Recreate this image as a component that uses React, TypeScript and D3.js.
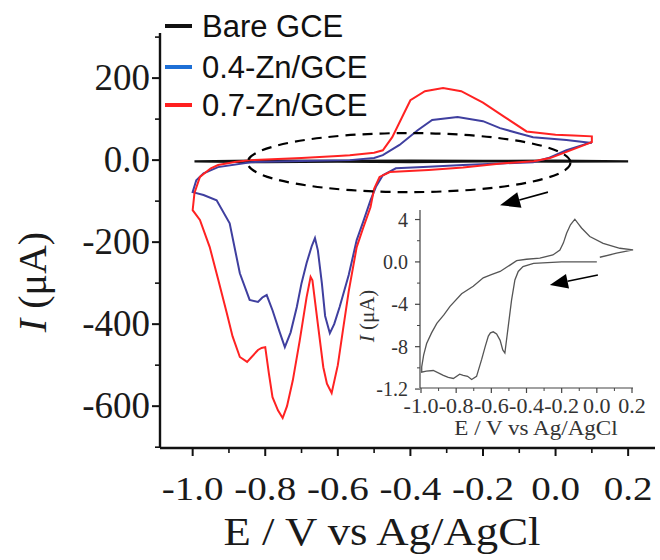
import React from 'react';
import * as d3 from 'd3';

// main CV curves, [E (V), I (uA)]
const bareGCE: [number, number][] = [
  [0.2, -3], [0.0, -4], [-0.2, -3], [-0.4, -5], [-0.6, -4], [-0.8, -5], [-0.995, -3],
  [-0.8, -1], [-0.6, -2], [-0.4, -1], [-0.2, -2], [0.0, -1], [0.2, -3],
];

const zn04: [number, number][] = [
  [0.1, 44], [0.03, 24], [-0.02, 5], [-0.062, -5], [-0.15, -8], [-0.255, -12], [-0.35, -16],
  [-0.44, -20], [-0.476, -37], [-0.495, -65], [-0.51, -98], [-0.53, -150], [-0.548, -195],
  [-0.57, -280], [-0.595, -358], [-0.61, -400], [-0.622, -422], [-0.635, -380], [-0.644, -300],
  [-0.655, -220], [-0.663, -190], [-0.672, -210], [-0.686, -251], [-0.7, -300], [-0.713, -358],
  [-0.73, -420], [-0.746, -456], [-0.76, -420], [-0.78, -366], [-0.796, -329], [-0.808, -335],
  [-0.82, -346], [-0.843, -341], [-0.87, -276], [-0.898, -154], [-0.934, -98], [-0.97, -85],
  [-1.0, -78], [-0.99, -49], [-0.97, -32], [-0.93, -17], [-0.84, -5], [-0.7, -2], [-0.567, 0],
  [-0.5, 5], [-0.476, 12], [-0.43, 37], [-0.38, 73], [-0.34, 98], [-0.27, 105], [-0.2, 95],
  [-0.153, 78], [-0.1, 65], [-0.062, 56], [0.03, 49], [0.1, 42],
];

const zn07: [number, number][] = [
  [0.1, 50], [0.1, 44], [0.03, 20], [-0.015, 5], [-0.06, -3], [-0.15, -8], [-0.255, -18],
  [-0.35, -24], [-0.457, -29], [-0.485, -41], [-0.5, -70], [-0.51, -115], [-0.53, -165],
  [-0.548, -212], [-0.57, -320], [-0.586, -415], [-0.6, -500], [-0.617, -568], [-0.63, -545],
  [-0.64, -505], [-0.655, -400], [-0.67, -293], [-0.675, -285], [-0.686, -334], [-0.705, -440],
  [-0.724, -537], [-0.74, -600], [-0.752, -629], [-0.765, -610], [-0.78, -578], [-0.79, -520],
  [-0.8, -456], [-0.81, -458], [-0.82, -463], [-0.85, -492], [-0.87, -480], [-0.89, -430],
  [-0.906, -373], [-0.93, -290], [-0.953, -212], [-0.98, -146], [-1.0, -122], [-0.995, -80],
  [-0.98, -41], [-0.95, -20], [-0.93, -12], [-0.88, -4], [-0.84, 0], [-0.7, 5], [-0.6, 10],
  [-0.567, 12], [-0.5, 18], [-0.476, 24], [-0.45, 56], [-0.42, 110], [-0.4, 146], [-0.36, 168],
  [-0.31, 176], [-0.26, 168], [-0.2, 140], [-0.14, 105], [-0.08, 70], [0.0, 62], [0.05, 60],
  [0.1, 58], [0.1, 50],
];

// inset: bare GCE, I in uA
const insetCurve: [number, number][] = [
  [0.0, 0.0], [-0.2, 0.0], [-0.36, -0.13], [-0.42, -0.44], [-0.447, -0.9], [-0.466, -1.7],
  [-0.485, -3.6], [-0.504, -6.1], [-0.523, -8.6], [-0.535, -8.3], [-0.55, -7.4], [-0.57, -6.8],
  [-0.589, -6.6], [-0.605, -6.7], [-0.617, -7.0], [-0.635, -8.0], [-0.655, -9.2], [-0.684, -10.8],
  [-0.712, -11.1], [-0.735, -10.8], [-0.76, -10.7], [-0.78, -10.6], [-0.816, -11.0], [-0.845, -10.9],
  [-0.873, -10.7], [-0.93, -10.25], [-0.97, -10.3], [-0.996, -10.4], [-0.996, -9.9], [-0.985, -8.8],
  [-0.968, -7.7], [-0.94, -6.7], [-0.91, -5.8], [-0.87, -5.0], [-0.835, -4.2], [-0.769, -3.0],
  [-0.703, -2.3], [-0.646, -1.5], [-0.6, -1.2], [-0.55, -0.9], [-0.494, -0.3], [-0.456, 0.12],
  [-0.4, 0.25], [-0.324, 0.35], [-0.25, 0.66], [-0.21, 1.13], [-0.19, 1.8], [-0.172, 2.7],
  [-0.15, 3.5], [-0.125, 4.03], [-0.105, 3.6], [-0.087, 3.2], [-0.04, 2.4], [0.036, 1.76],
  [0.131, 1.29], [0.206, 1.13], [0.112, 0.82], [0.017, 0.44],
];

const xTicks = [-1.0, -0.8, -0.6, -0.4, -0.2, 0.0, 0.2];
const xTickLabels = ['-1.0', '-0.8', '-0.6', '-0.4', '-0.2', '0.0', '0.2'];
const xMinor = [-0.9, -0.7, -0.5, -0.3, -0.1, 0.1];
const yTicks = [200, 0, -200, -400, -600];
const yTickLabels = ['200', '0.0', '-200', '-400', '-600'];
const yMinor = [300, 100, -100, -300, -500, -700];

const insetYTicks = [4, 0, -4, -8, -12];
const insetYLabels = ['4', '0.0', '-4', '-8', '-1.2'];
const insetYMinor = [2, -2, -6, -10];

const legendNames = ['Bare GCE', '0.4-Zn/GCE', '0.7-Zn/GCE'];
const legendColors = ['#111', '#1d6fd6', '#ff1f1f'];
const curveColors = ['#111', '#3f3f9f', '#ff2222'];

// annotations: [E, I]
const mainArrow: [number, number][] = [[-0.021, -78], [-0.153, -110]];
const insetArrow: [number, number][] = [[0.006, -1.23], [-0.267, -2.17]];
const ellipse = { cx: -0.404, cy: -6, rx: 0.445, ry: 72 };

const serif = "'Times New Roman', 'Liberation Serif', serif";
const sans = "Arial, 'Liberation Sans', sans-serif";

function Arrow({ p0, p1, len, half, width }: any) {
  const ang = Math.atan2(p1[1] - p0[1], p1[0] - p0[0]);
  const bx = p1[0] - len * Math.cos(ang);
  const by = p1[1] - len * Math.sin(ang);
  const nx = -Math.sin(ang) * half;
  const ny = Math.cos(ang) * half;
  return (
    <g>
      <line x1={p0[0]} y1={p0[1]} x2={bx} y2={by} stroke="#000" strokeWidth={width} />
      <polygon points={`${p1[0]},${p1[1]} ${bx + nx},${by + ny} ${bx - nx},${by - ny}`} fill="#000" />
    </g>
  );
}

export default function App() {
  const W = 660, H = 560;
  const x = d3.scaleLinear().domain([-1.09, 0.274]).range([160, 655]);
  const y = d3.scaleLinear().domain([-702, 310]).range([448, 33]);
  const ix = d3.scaleLinear().domain([-1.0, 0.2]).range([421, 632]);
  const iy = d3.scaleLinear().domain([-11.9, 4.9]).range([388, 210]);

  const line = d3.line<[number, number]>().x(d => x(d[0])).y(d => y(d[1]));
  const iline = d3.line<[number, number]>().x(d => ix(d[0])).y(d => iy(d[1]));
  const series = [bareGCE, zn04, zn07];

  const x0 = x.range()[0], y0 = y.range()[0];
  const ex = x(ellipse.cx), ey = y(ellipse.cy);
  const erx = x(ellipse.cx + ellipse.rx) - ex, ery = ey - y(ellipse.cy + ellipse.ry);

  return (
    <svg width={W} height={H} style={{ position: 'absolute', left: 0, top: 0, background: '#fff' }}>
      {/* curves */}
      {series.map((s, i) => (
        <path key={i} d={line(s) || ''} fill="none" stroke={curveColors[i]} strokeWidth={i === 0 ? 2.2 : 2} />
      ))}
      <ellipse cx={ex} cy={ey} rx={erx} ry={ery} fill="none" stroke="#000" strokeWidth={2.2} strokeDasharray="10 7" />
      <Arrow p0={[x(mainArrow[0][0]), y(mainArrow[0][1])]} p1={[x(mainArrow[1][0]), y(mainArrow[1][1])]} len={20} half={8} width={1.6} />

      {/* main axes */}
      <line x1={x0} y1={y.range()[1]} x2={x0} y2={y0} stroke="#111" strokeWidth={2.4} />
      <line x1={x0} y1={y0} x2={x.range()[1]} y2={y0} stroke="#111" strokeWidth={2.4} />
      {xTicks.map((t, i) => (
        <g key={'xt' + i}>
          <line x1={x(t)} x2={x(t)} y1={y0} y2={y0 + 8} stroke="#111" strokeWidth={2} />
          <text transform={`translate(${x(t)},500) scale(1.15,1)`} textAnchor="middle" fontFamily={serif} fontSize={34} fill="#1a1a1a">
            {xTickLabels[i]}
          </text>
        </g>
      ))}
      {xMinor.map((t, i) => (
        <line key={'xm' + i} x1={x(t)} x2={x(t)} y1={y0} y2={y0 + 5} stroke="#111" strokeWidth={1.6} />
      ))}
      {yTicks.map((t, i) => (
        <g key={'yt' + i}>
          <line x1={x0 - 8} x2={x0} y1={y(t)} y2={y(t)} stroke="#111" strokeWidth={2} />
          <text x={150} y={y(t) + 12} textAnchor="end" fontFamily={serif} fontSize={37} fill="#1a1a1a">
            {yTickLabels[i]}
          </text>
        </g>
      ))}
      {yMinor.map((t, i) => (
        <line key={'ym' + i} x1={x0 - 5} x2={x0} y1={y(t)} y2={y(t)} stroke="#111" strokeWidth={1.6} />
      ))}
      <text transform="translate(382,545) scale(1.12,1)" textAnchor="middle" fontFamily={serif} fontSize={40} fill="#1a1a1a">
        E / V vs Ag/AgCl
      </text>
      <text transform="translate(46,282) rotate(-90)" textAnchor="middle" fontFamily={serif} fontSize={40} fill="#1a1a1a">
        <tspan fontStyle="italic">I</tspan> (μA)
      </text>

      {/* legend */}
      {legendNames.map((n, i) => {
        const by = [26, 67, 105][i];
        return (
          <g key={'lg' + i}>
            <line x1={165} x2={192} y1={by} y2={by} stroke={legendColors[i]} strokeWidth={4} />
            <text x={202} y={by + 11} fontFamily={sans} fontSize={31} fill="#111">{n}</text>
          </g>
        );
      })}

      {/* inset */}
      <path d={iline(insetCurve) || ''} fill="none" stroke="#555" strokeWidth={1.3} />
      <Arrow p0={[ix(insetArrow[0][0]), iy(insetArrow[0][1])]} p1={[ix(insetArrow[1][0]), iy(insetArrow[1][1])]} len={18} half={7.5} width={1.5} />
      <line x1={420} y1={210} x2={420} y2={388} stroke="#444" strokeWidth={1.2} />
      <line x1={420} y1={388} x2={633} y2={388} stroke="#444" strokeWidth={1.2} />
      {xTicks.map((t, i) => (
        <g key={'ixt' + i}>
          <line x1={ix(t)} x2={ix(t)} y1={388} y2={393} stroke="#444" strokeWidth={1.2} />
          <text transform={`translate(${ix(t)},413) scale(1.1,1)`} textAnchor="middle" fontFamily={serif} fontSize={20} fill="#333">
            {xTickLabels[i]}
          </text>
        </g>
      ))}
      {xMinor.map((t, i) => (
        <line key={'ixm' + i} x1={ix(t)} x2={ix(t)} y1={388} y2={391} stroke="#444" strokeWidth={1} />
      ))}
      {insetYTicks.map((t, i) => (
        <g key={'iyt' + i}>
          <line x1={415} x2={420} y1={iy(t)} y2={iy(t)} stroke="#444" strokeWidth={1.2} />
          <text x={408} y={iy(t) + 7} textAnchor="end" fontFamily={serif} fontSize={20} fill="#333">
            {insetYLabels[i]}
          </text>
        </g>
      ))}
      {insetYMinor.map((t, i) => (
        <line key={'iym' + i} x1={417} x2={420} y1={iy(t)} y2={iy(t)} stroke="#444" strokeWidth={1} />
      ))}
      <text transform="translate(536,435) scale(1.1,1)" textAnchor="middle" fontFamily={serif} fontSize={21} fill="#333">
        E / V vs Ag/AgCl
      </text>
      <text transform="translate(374,316) rotate(-90)" textAnchor="middle" fontFamily={serif} fontSize={21} fill="#333">
        <tspan fontStyle="italic">I</tspan> (μA)
      </text>
    </svg>
  );
}
